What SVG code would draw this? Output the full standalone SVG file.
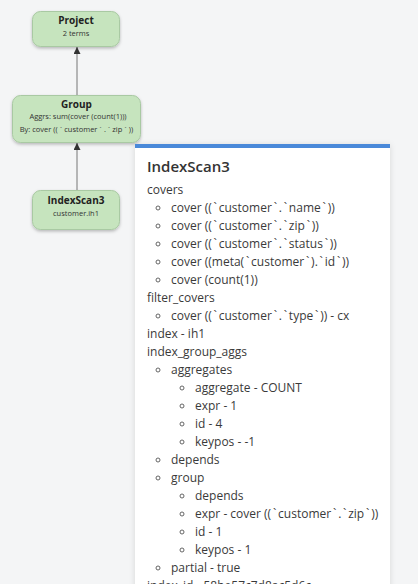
<svg xmlns="http://www.w3.org/2000/svg" width="418" height="584" viewBox="0 0 418 584">
<style>
.node rect{fill:#c6e4be;stroke:#a9c9a3;stroke-width:1}
.nt{font-family:"Open Sans","Liberation Sans",sans-serif;font-size:10px;font-weight:700;fill:#222;text-anchor:middle}
.ns{font-family:"Open Sans","Liberation Sans",sans-serif;font-size:7.5px;fill:#333;text-anchor:middle}
.ns .bt{letter-spacing:2.2px}
.edge{stroke:#777;stroke-width:1;fill:none}
.ct{font-family:"Open Sans","Liberation Sans",sans-serif;font-size:15px;font-weight:600;fill:#333}
.c{font-family:"Open Sans","Liberation Sans",sans-serif;font-size:12px;fill:#3a3a3a}
.c .bt{letter-spacing:1.8px}
.b{fill:none;stroke:#555;stroke-width:0.9}
</style>
<defs>
<marker id="arr" viewBox="0 0 10 10" refX="10" refY="5" markerWidth="7" markerHeight="7" markerUnits="userSpaceOnUse" orient="auto"><path d="M0,0 L10,5 L0,10 z" fill="#333"/></marker>
<filter id="sh" x="-20%" y="-20%" width="140%" height="150%"><feDropShadow dx="0" dy="1.5" stdDeviation="1.5" flood-color="#000" flood-opacity="0.25"/></filter>
<filter id="csh" x="-10%" y="-10%" width="120%" height="120%"><feDropShadow dx="0" dy="1" stdDeviation="3" flood-color="#000" flood-opacity="0.12"/></filter>
</defs>
<rect width="418" height="584" fill="#f4f5f6"/>
<g id="connectors">
<line class="edge" x1="77" y1="95" x2="77" y2="47" marker-end="url(#arr)"/>
<line class="edge" x1="77" y1="190" x2="77" y2="143" marker-end="url(#arr)"/>
</g>
<g id="node-project" class="node">
<rect x="32.5" y="11.5" width="87" height="35" rx="8" filter="url(#sh)"/>
<text class="nt" x="76" y="24">Project</text>
<text class="ns" x="76" y="36">2 terms</text>
</g>
<g id="node-group" class="node">
<rect x="12.5" y="95.5" width="128" height="47" rx="8" filter="url(#sh)"/>
<text class="nt" x="76.5" y="108">Group</text>
<text class="ns" x="78" y="119">Aggrs: sum(cover (count(1)))</text>
<text class="ns" x="76.5" y="131.5">By: cover ((<tspan class="bt" dx="2.2">`</tspan>customer<tspan class="bt" dx="2.2">`</tspan>.<tspan class="bt" dx="2.2">`</tspan>zip<tspan class="bt" dx="2.2">`</tspan>))</text>
</g>
<g id="node-indexscan3" class="node">
<rect x="32.5" y="190.5" width="87" height="39" rx="8" filter="url(#sh)"/>
<text class="nt" x="76" y="204">IndexScan3</text>
<text class="ns" x="76" y="216">customer.ih1</text>
</g>
<g id="detail-card">
<rect x="135" y="144" width="255" height="450" fill="#fff" filter="url(#csh)"/>
<rect x="135" y="144" width="255" height="4" fill="#4a89d9"/>
<text class="ct" x="147" y="172">IndexScan3</text>
<text class="c" x="147" y="194">covers</text>
<circle class="b" cx="158" cy="208" r="2"/><text class="c" x="171" y="212">cover ((<tspan class="bt" dx="1.8">`</tspan>customer<tspan class="bt" dx="1.8">`</tspan>.<tspan class="bt" dx="1.8">`</tspan>name<tspan class="bt" dx="1.8">`</tspan>))</text>
<circle class="b" cx="158" cy="226" r="2"/><text class="c" x="171" y="230">cover ((<tspan class="bt" dx="1.8">`</tspan>customer<tspan class="bt" dx="1.8">`</tspan>.<tspan class="bt" dx="1.8">`</tspan>zip<tspan class="bt" dx="1.8">`</tspan>))</text>
<circle class="b" cx="158" cy="244" r="2"/><text class="c" x="171" y="248">cover ((<tspan class="bt" dx="1.8">`</tspan>customer<tspan class="bt" dx="1.8">`</tspan>.<tspan class="bt" dx="1.8">`</tspan>status<tspan class="bt" dx="1.8">`</tspan>))</text>
<circle class="b" cx="158" cy="262" r="2"/><text class="c" x="171" y="266">cover ((meta(<tspan class="bt" dx="1.8">`</tspan>customer<tspan class="bt" dx="1.8">`</tspan>).<tspan class="bt" dx="1.8">`</tspan>id<tspan class="bt" dx="1.8">`</tspan>))</text>
<circle class="b" cx="158" cy="280" r="2"/><text class="c" x="171" y="284">cover (count(1))</text>
<text class="c" x="147" y="302">filter_covers</text>
<circle class="b" cx="158" cy="316" r="2"/><text class="c" x="171" y="320">cover ((<tspan class="bt" dx="1.8">`</tspan>customer<tspan class="bt" dx="1.8">`</tspan>.<tspan class="bt" dx="1.8">`</tspan>type<tspan class="bt" dx="1.8">`</tspan>)) - cx</text>
<text class="c" x="147" y="338">index - ih1</text>
<text class="c" x="147" y="356">index_group_aggs</text>
<circle class="b" cx="158" cy="370" r="2"/><text class="c" x="171" y="374">aggregates</text>
<circle class="b" cx="182" cy="388" r="2"/><text class="c" x="195" y="392">aggregate - COUNT</text>
<circle class="b" cx="182" cy="406" r="2"/><text class="c" x="195" y="410">expr - 1</text>
<circle class="b" cx="182" cy="424" r="2"/><text class="c" x="195" y="428">id - 4</text>
<circle class="b" cx="182" cy="442" r="2"/><text class="c" x="195" y="446">keypos - -1</text>
<circle class="b" cx="158" cy="460" r="2"/><text class="c" x="171" y="464">depends</text>
<circle class="b" cx="158" cy="478" r="2"/><text class="c" x="171" y="482">group</text>
<circle class="b" cx="182" cy="496" r="2"/><text class="c" x="195" y="500">depends</text>
<circle class="b" cx="182" cy="514" r="2"/><text class="c" x="195" y="518">expr - cover ((<tspan class="bt" dx="1.8">`</tspan>customer<tspan class="bt" dx="1.8">`</tspan>.<tspan class="bt" dx="1.8">`</tspan>zip<tspan class="bt" dx="1.8">`</tspan>))</text>
<circle class="b" cx="182" cy="532" r="2"/><text class="c" x="195" y="536">id - 1</text>
<circle class="b" cx="182" cy="550" r="2"/><text class="c" x="195" y="554">keypos - 1</text>
<circle class="b" cx="158" cy="568" r="2"/><text class="c" x="171" y="572">partial - true</text>
<text class="c" x="147" y="590">index_id - 58be57c7d8ac5d6c</text>
</g>
</svg>
